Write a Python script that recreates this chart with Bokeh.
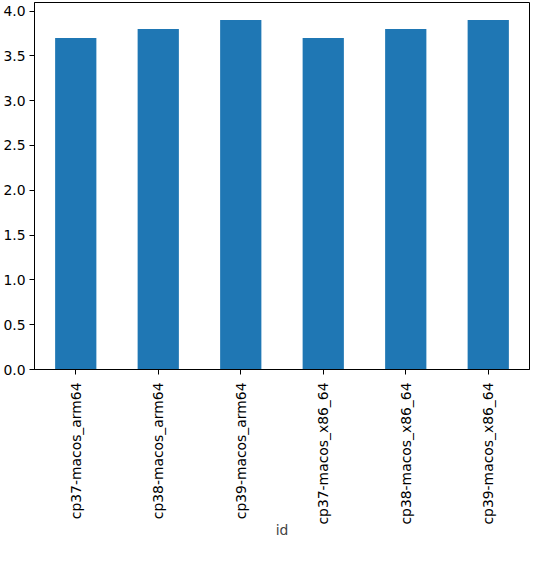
import math
from bokeh.plotting import figure
from bokeh.models import FactorRange, Range1d, FixedTicker, NumeralTickFormatter, ColumnDataSource
from bokeh.embed import file_html
from bokeh.resources import INLINE

ids = ["cp37-macos_arm64", "cp38-macos_arm64", "cp39-macos_arm64",
       "cp37-macos_x86_64", "cp38-macos_x86_64", "cp39-macos_x86_64"]
values = [3.7, 3.8, 3.9, 3.7, 3.8, 3.9]
y_ticks = [0.0, 0.5, 1.0, 1.5, 2.0, 2.5, 3.0, 3.5, 4.0]

source = ColumnDataSource(data=dict(id=ids, value=values))

p = figure(x_range=FactorRange(*ids, range_padding=0), y_range=Range1d(0, 4.095),
           width=530, height=540, output_backend="svg", toolbar_location=None,
           min_border_left=34, min_border_right=1, min_border_top=2, min_border_bottom=160)
p.vbar(x="id", top="value", width=0.5, source=source, color="#1f77b4", line_color=None)

p.xgrid.visible = False
p.ygrid.visible = False
p.outline_line_color = "black"
p.outline_line_alpha = 1

p.yaxis.ticker = FixedTicker(ticks=y_ticks)
p.yaxis.formatter = NumeralTickFormatter(format="0.0")
p.yaxis.minor_tick_line_color = None

for ax in [p.xaxis[0], p.yaxis[0]]:
    ax.axis_line_color = "black"
    ax.major_tick_line_color = "black"
    ax.major_tick_out = 5
    ax.major_tick_in = 0
    ax.major_label_text_font = "DejaVu Sans"
    ax.major_label_text_font_size = "13.9px"
    ax.major_label_text_color = "black"
    ax.major_label_standoff = 4

p.xaxis.major_label_orientation = math.pi / 2
p.xaxis.major_label_standoff = 8
p.xaxis.axis_label = "id"
p.xaxis.axis_label_text_font = "DejaVu Sans"
p.xaxis.axis_label_text_font_size = "13.9px"
p.xaxis.axis_label_text_font_style = "normal"
p.xaxis.axis_label_standoff = -6

open("out.html", "w").write(file_html(p, INLINE))
